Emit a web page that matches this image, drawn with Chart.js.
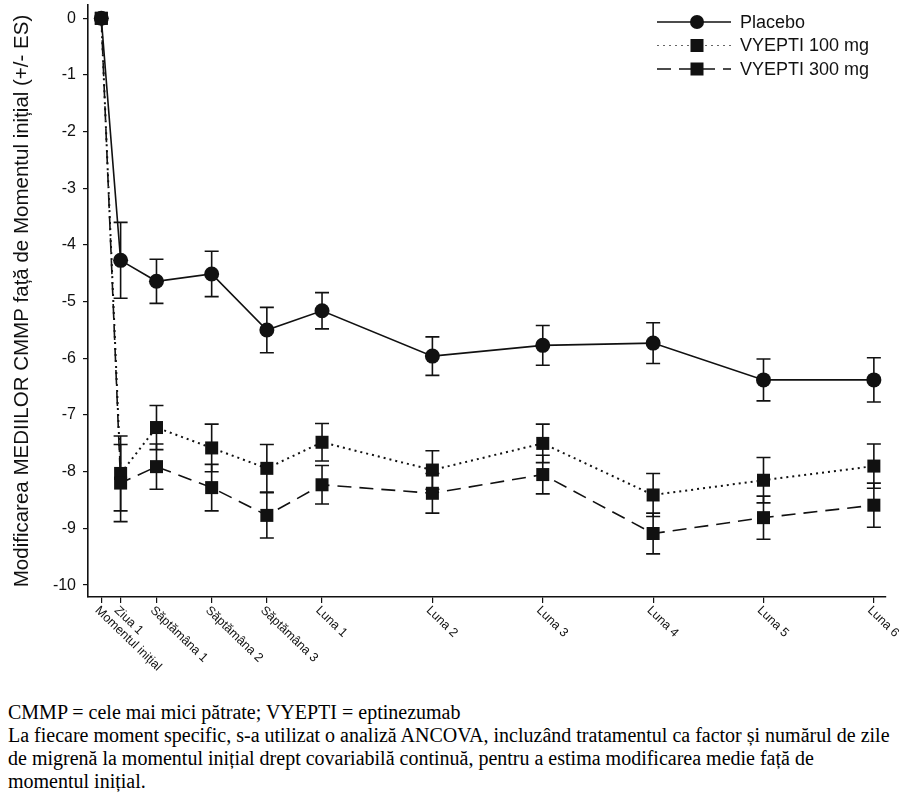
<!DOCTYPE html>
<html>
<head>
<meta charset="utf-8">
<script src="https://cdn.jsdelivr.net/npm/chart.js@4"></script>
<style>
  body { margin:0; background:#fff; width:920px; height:798px; overflow:hidden; position:relative; }
  #wrap { position:absolute; left:0; top:0; width:920px; height:690px; }
  #note { position:absolute; left:8px; top:701px; font:20px "Liberation Serif","Times New Roman",serif; line-height:23px; color:#000; white-space:nowrap; }
</style>
</head>
<body>
<div id="wrap"><canvas id="c" width="920" height="690"></canvas></div>
<div id="note">CMMP = cele mai mici pătrate; VYEPTI = eptinezumab<br>La fiecare moment specific, s-a utilizat o analiză ANCOVA, incluzând tratamentul ca factor și numărul de zile<br>de migrenă la momentul inițial drept covariabilă continuă, pentru a estima modificarea medie față de<br>momentul inițial.</div>
<script>
// ---- data ----
const timePoints = [0, 0.35, 1, 2, 3, 4, 6, 8, 10, 12, 14];
const tickLabels = ['Momentul inițial','Ziua 1','Săptămâna 1','Săptămâna 2','Săptămâna 3','Luna 1','Luna 2','Luna 3','Luna 4','Luna 5','Luna 6'];
const seriesNames = ['Placebo','VYEPTI 100 mg','VYEPTI 300 mg'];
const placebo   = [0,-4.27,-4.64,-4.51,-5.50,-5.16,-5.96,-5.77,-5.73,-6.38,-6.38];
const placeboSE = [0, 0.67, 0.39, 0.40, 0.40, 0.32, 0.34, 0.35, 0.36, 0.37, 0.39];
const v100      = [0,-8.03,-7.22,-7.58,-7.94,-7.48,-7.97,-7.50,-8.41,-8.15,-7.90];
const v100SE    = [0, 0.66, 0.39, 0.42, 0.42, 0.33, 0.34, 0.34, 0.38, 0.40, 0.39];
const v300      = [0,-8.20,-7.91,-8.28,-8.77,-8.23,-8.38,-8.05,-9.09,-8.81,-8.59];
const v300SE    = [0, 0.68, 0.40, 0.41, 0.40, 0.34, 0.35, 0.34, 0.36, 0.38, 0.39];
const yTicks = [0,-1,-2,-3,-4,-5,-6,-7,-8,-9,-10];
const yTitle = 'Modificarea MEDIILOR CMMP față de Momentul inițial (+/- ES)';

const FONT = '"Liberation Sans", Arial, sans-serif';
const INK = '#111';
const toXY = arr => arr.map((v, i) => ({x: timePoints[i], y: v}));
const seList = [placeboSE, v100SE, v300SE];
const styles = [
  {dash: [], width: 1.6, pointStyle: 'circle', radius: 7.5},
  {dash: [2, 4], width: 2, pointStyle: 'rect', radius: 9.2},
  {dash: [14, 8], width: 1.6, pointStyle: 'rect', radius: 9.2}
];

const errorBars = {
  id: 'errorBars',
  beforeDatasetsDraw(chart) {
    const ctx = chart.ctx, ys = chart.scales.y;
    ctx.save();
    ctx.strokeStyle = INK; ctx.lineWidth = 1.6; ctx.setLineDash([]);
    chart.data.datasets.forEach((ds, di) => {
      const meta = chart.getDatasetMeta(di);
      ds.data.forEach((p, j) => {
        const e = seList[di][j];
        if (!e) return;
        const x = meta.data[j].x;
        const y1 = ys.getPixelForValue(p.y + e), y2 = ys.getPixelForValue(p.y - e);
        ctx.beginPath();
        ctx.moveTo(x, y1); ctx.lineTo(x, y2);
        ctx.moveTo(x - 7, y1); ctx.lineTo(x + 7, y1);
        ctx.moveTo(x - 7, y2); ctx.lineTo(x + 7, y2);
        ctx.stroke();
      });
    });
    ctx.restore();
  }
};

const xLabels = {
  id: 'xLabels',
  afterDraw(chart) {
    const ctx = chart.ctx, xs = chart.scales.x, yb = chart.chartArea.bottom;
    ctx.save();
    ctx.font = '12.5px ' + FONT; ctx.fillStyle = INK;
    ctx.textAlign = 'left'; ctx.textBaseline = 'top';
    timePoints.forEach((t, i) => {
      const x = xs.getPixelForValue(t);
      ctx.save();
      ctx.translate(x, yb + 7);
      ctx.rotate(44 * Math.PI / 180);
      ctx.fillText(tickLabels[i], 0, 0);
      ctx.restore();
    });
    ctx.restore();
  }
};

const legendPlugin = {
  id: 'customLegend',
  afterDraw(chart) {
    const ctx = chart.ctx;
    ctx.save();
    const x0 = 657, x1 = 731, xm = 697, xt = 740, rowY = [22, 45.5, 69];
    seriesNames.forEach((name, i) => {
      const y = rowY[i], st = styles[i];
      ctx.strokeStyle = i === 1 ? '#666' : INK;
      ctx.lineWidth = i === 1 ? 1.2 : 1.6;
      ctx.setLineDash(st.dash);
      ctx.beginPath(); ctx.moveTo(x0, y); ctx.lineTo(x1, y); ctx.stroke();
      ctx.setLineDash([]);
      ctx.fillStyle = INK;
      if (st.pointStyle === 'circle') {
        ctx.beginPath(); ctx.arc(xm, y, 7, 0, Math.PI * 2); ctx.fill();
      } else {
        ctx.fillRect(xm - 6.5, y - 6.5, 13, 13);
      }
      ctx.font = '18px ' + FONT; ctx.textAlign = 'left'; ctx.textBaseline = 'middle';
      ctx.fillText(name, xt, y + 1);
    });
    ctx.restore();
  }
};

const mk = (label, arr, i, order) => ({
  label, data: toXY(arr), order, clip: false,
  borderColor: INK, borderWidth: styles[i].width, borderDash: styles[i].dash,
  backgroundColor: INK, pointBackgroundColor: INK, pointBorderColor: INK, pointBorderWidth: 0,
  pointStyle: styles[i].pointStyle, pointRadius: styles[i].radius, tension: 0, fill: false
});

new Chart(document.getElementById('c'), {
  type: 'line',
  data: { datasets: [mk(seriesNames[0], placebo, 0, 2), mk(seriesNames[1], v100, 1, 1), mk(seriesNames[2], v300, 2, 0)] },
  options: {
    responsive: false, animation: false, devicePixelRatio: 1,
    layout: { autoPadding: false, padding: { top: 5, right: 34, bottom: 0, left: 0 } },
    plugins: { legend: { display: false }, tooltip: { enabled: false } },
    scales: {
      x: {
        type: 'linear', min: -0.241, max: 14.22,
        afterBuildTicks: s => { s.ticks = timePoints.map(v => ({ value: v })); },
        afterFit: s => { s.height = 690 - 597; s.paddingLeft = 0; s.paddingRight = 0; },
        ticks: { display: false },
        grid: { drawOnChartArea: false, drawTicks: true, tickLength: 6, color: INK, lineWidth: 1.2 },
        border: { color: INK, width: 1.6 }
      },
      y: {
        min: -10.21, max: 0.235,
        afterBuildTicks: s => { s.ticks = yTicks.map(v => ({ value: v })); },
        afterFit: s => { s.width = 88; s.paddingTop = 0; s.paddingBottom = 0; },
        ticks: { font: { family: FONT, size: 16 }, color: INK, padding: 7 },
        grid: { drawOnChartArea: false, drawTicks: true, tickLength: 5, color: INK, lineWidth: 1.2 },
        border: { color: INK, width: 1.6 },
        title: { display: true, text: yTitle, font: { family: FONT, size: 20.5 }, color: INK, padding: { top: 10, bottom: 0 } }
      }
    }
  },
  plugins: [errorBars, xLabels, legendPlugin]
});
</script>
</body>
</html>
